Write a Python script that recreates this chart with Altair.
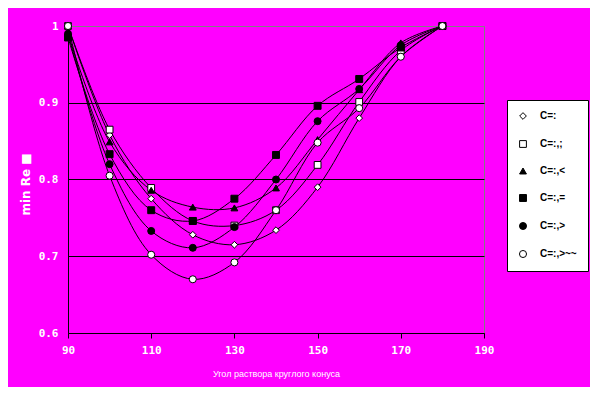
import altair as alt
import pandas as pd

angles = [90, 100, 110, 120, 130, 140, 150, 160, 170, 180]
series_names = ["C=:", "C=:,;", "C=:,<", "C=:,=", "C=:,>", "C=:,>~~"]
s_diamond = [1.0, 0.858, 0.775, 0.728, 0.715, 0.734, 0.790, 0.880, 0.960, 1.0]
s_open_sq = [1.0, 0.865, 0.789, 0.746, 0.740, 0.760, 0.819, 0.901, 0.968, 1.0]
s_triangle = [0.99, 0.849, 0.786, 0.764, 0.763, 0.789, 0.852, 0.917, 0.978, 1.0]
s_black_sq = [0.985, 0.833, 0.760, 0.746, 0.775, 0.832, 0.896, 0.931, 0.972, 1.0]
s_circle = [0.99, 0.820, 0.733, 0.711, 0.738, 0.800, 0.876, 0.918, 0.975, 1.0]
s_small_circ = [1.0, 0.805, 0.702, 0.670, 0.692, 0.760, 0.848, 0.893, 0.960, 1.0]

all_series = [s_diamond, s_open_sq, s_triangle, s_black_sq, s_circle, s_small_circ]
rows = []
for name, vals in zip(series_names, all_series):
    for a, v in zip(angles, vals):
        rows.append({"angle": a, "value": v, "series": name})
df = pd.DataFrame(rows)

shapes = ["diamond", "square", "triangle-up", "square", "circle", "circle"]
fills = ["white", "white", "black", "black", "black", "white"]
strokes = ["black"] * 6
sizes = [45, 50, 60, 130, 70, 25]

base = alt.Chart(df)

x_enc = alt.X("angle:Q", scale=alt.Scale(domain=[90, 190], nice=False, zero=False),
              axis=alt.Axis(values=[90, 110, 130, 150, 170, 190], title="Угол раствора круглого конуса",
                            grid=False, domainColor="black", tickColor="black", tickSize=5,
                            labelFlush=False,
                            labelColor="white", labelFont="DejaVu Sans Mono", labelFontSize=11,
                            labelFontWeight="bold", labelPadding=6,
                            titleColor="white", titleFont="Liberation Sans", titleFontSize=9,
                            titleFontWeight="normal", titlePadding=14))
y_enc = alt.Y("value:Q", scale=alt.Scale(domain=[0.6, 1.0], nice=False, zero=False),
              axis=alt.Axis(values=[0.6, 0.7, 0.8, 0.9, 1.0], title="min Re ■",
                            labelExpr="datum.value == 1 ? '1' : format(datum.value, '.1f')",
                            grid=True, labelFlush=False,
                            gridColor=alt.condition("datum.value == 1", alt.value("#808080"), alt.value("black")),
                            domainColor="black", ticks=False, labelPadding=10,
                            labelColor="white", labelFont="DejaVu Sans Mono", labelFontSize=11,
                            labelFontWeight="bold",
                            titleColor="white", titleFont="DejaVu Sans", titleFontSize=12,
                            titleFontWeight="bold", titleX=-36, titleY=158))

lines = base.mark_line(interpolate="catmull-rom", color="black", strokeWidth=1).encode(
    x=x_enc, y=y_enc, detail="series:N")

points = base.mark_point(filled=False, strokeWidth=1, opacity=1).encode(
    x="angle:Q", y="value:Q",
    shape=alt.Shape("series:N", scale=alt.Scale(domain=series_names, range=shapes), title=None),
    fill=alt.Fill("series:N", scale=alt.Scale(domain=series_names, range=fills), title=None),
    stroke=alt.Stroke("series:N", scale=alt.Scale(domain=series_names, range=strokes), title=None),
    size=alt.Size("series:N", scale=alt.Scale(domain=series_names, range=sizes), title=None),
)

chart = alt.layer(lines, points).properties(
    width=416, height=307,
    autosize=alt.AutoSizeParams(type="none"),
    padding={"left": 60, "top": 18, "right": 106, "bottom": 54},
    background="#FF00FF",
).configure_view(stroke="#808080", strokeWidth=1).configure_legend(
    orient="none", legendX=439, legendY=74,
    fillColor="white", strokeColor="black", padding=11,
    rowPadding=16, labelFontSize=10, labelColor="black", labelFont="Liberation Sans",
    labelFontWeight="bold",
    symbolStrokeColor="black", symbolStrokeWidth=1, labelOffset=12,
)

chart.save("out.html", embed_options={"renderer": "svg", "actions": False})
